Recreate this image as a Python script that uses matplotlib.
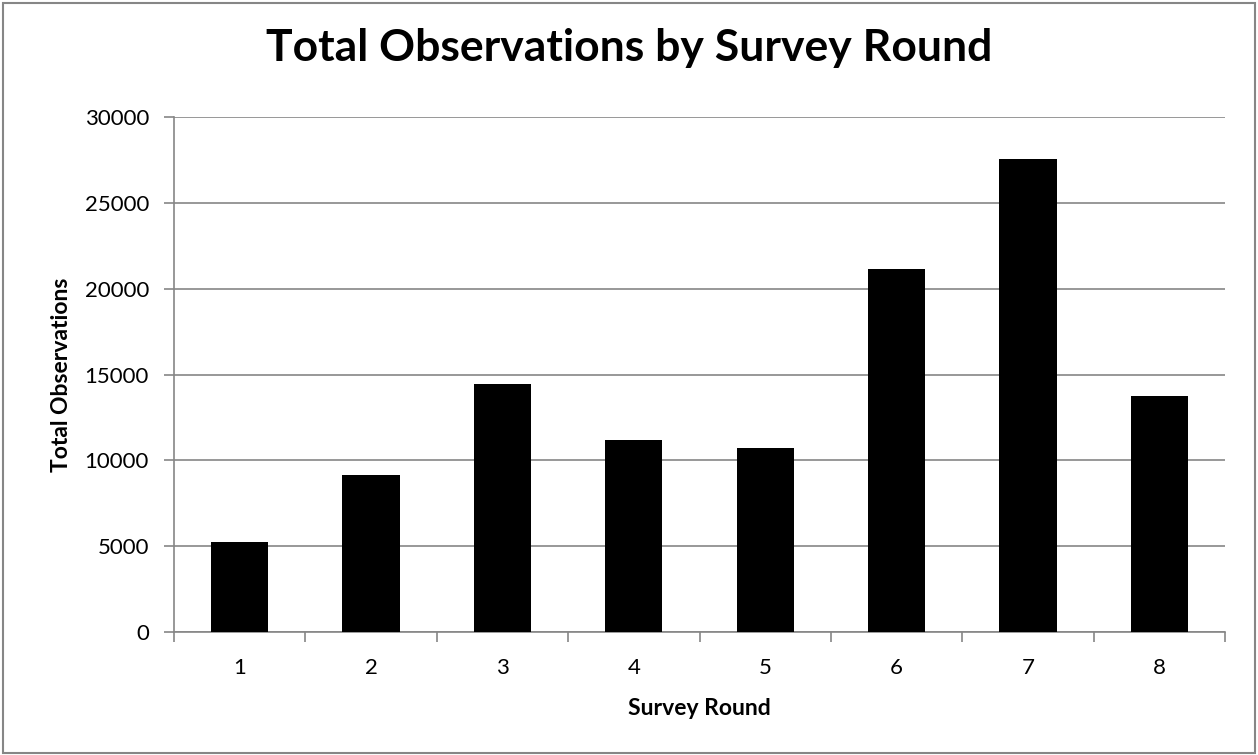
import matplotlib.pyplot as plt
from matplotlib.patches import Rectangle

plt.rcParams['font.family'] = ['Lato', 'DejaVu Sans']

rounds = ['1', '2', '3', '4', '5', '6', '7', '8']
observations = [5224, 9163, 14449, 11173, 10738, 21124, 27570, 13723]

fig = plt.figure(figsize=(12.58, 7.55), dpi=100)
ax = fig.add_axes([0.1383, 0.1629, 0.8355, 0.6821])

x = list(range(len(rounds)))
ax.bar(x, observations, width=0.435, color='black', zorder=3)

ax.set_xlim(-0.5, len(rounds) - 0.5)
ax.set_ylim(0, 30000)
ax.set_yticks(range(0, 30001, 5000))
ax.set_xticks(x)
ax.set_xticklabels(rounds)
# tick marks sit between categories, labels stay centred
ax.set_xticks([i - 0.5 for i in range(len(rounds) + 1)], minor=True)
ax.tick_params(axis='x', which='major', length=0, pad=19, labelsize=16)
ax.tick_params(axis='x', which='minor', length=7, color='#868686', width=1.2)
ax.tick_params(axis='y', length=7, color='#868686', width=1.2, labelsize=16, pad=11)

ax.grid(axis='y', color='#868686', linewidth=1.2, zorder=0)
for side in ['top', 'right']:
    ax.spines[side].set_visible(False)
for side in ['left', 'bottom']:
    ax.spines[side].set_color('#868686')
    ax.spines[side].set_linewidth(1.2)

ax.set_xlabel('Survey Round', fontsize=16.5, fontweight='bold', labelpad=14)
ax.set_ylabel('Total Observations', fontsize=16.5, fontweight='bold', labelpad=9)
fig.text(0.5, 0.936, 'Total Observations by Survey Round', ha='center', va='center',
         fontsize=32, fontweight='bold')

fig.patches.append(Rectangle((0.002, 0.002), 0.996, 0.994, transform=fig.transFigure,
                             fill=False, edgecolor='#868686', linewidth=1.5))

fig.savefig('out.png', dpi=100)
